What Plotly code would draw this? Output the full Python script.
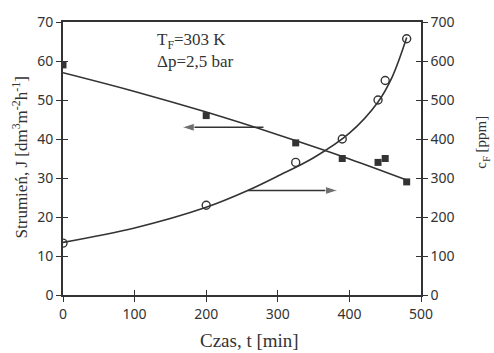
import plotly.graph_objects as go

# measured points
t_J = [0, 200, 325, 390, 440, 450, 480]
J = [59, 46, 39, 35, 34, 35, 29]
t_c = [0, 200, 325, 390, 440, 450, 480]
cF = [133, 230, 340, 400, 500, 550, 657]

# trend curves
t_Jfit = [0, 100, 200, 300, 400, 480]
J_fit = [57, 52.2, 46.9, 41.1, 34.9, 29.5]
t_cfit = [0, 100, 200, 258, 300, 350, 400, 440, 460, 480]
c_fit = [135, 172, 225, 268, 305, 352, 415, 495, 560, 660]

# arrows (which axis each curve belongs to)
arrow_left_t = [280, 166]
arrow_left_J = [43, 43]
arrow_right_t = [258, 384]
arrow_right_J = [26.8, 26.8]

x_ticks = [0, 100, 200, 300, 400, 500]
yl_ticks = [0, 10, 20, 30, 40, 50, 60, 70]
yr_ticks = [0, 100, 200, 300, 400, 500, 600, 700]

ink = "#333333"
serif = "Liberation Serif, Times New Roman, serif"
sans = "Noto Sans, DejaVu Sans, sans-serif"

fig = go.Figure()
fig.add_trace(go.Scatter(x=t_Jfit, y=J_fit, mode="lines", line=dict(color=ink, width=1.6, shape="spline"),
                         showlegend=False, hoverinfo="skip"))
fig.add_trace(go.Scatter(x=t_J, y=J, mode="markers", marker=dict(symbol="square", size=7, color=ink),
                         showlegend=False))
fig.add_trace(go.Scatter(x=t_cfit, y=c_fit, mode="lines", line=dict(color=ink, width=1.6, shape="spline"),
                         yaxis="y2", showlegend=False, hoverinfo="skip"))
fig.add_trace(go.Scatter(x=t_c, y=cF, mode="markers",
                         marker=dict(symbol="circle-open", size=8, color=ink, line=dict(width=1.4)),
                         yaxis="y2", showlegend=False))

for xs, ys in [(arrow_left_t, arrow_left_J), (arrow_right_t, arrow_right_J)]:
    fig.add_trace(go.Scatter(x=xs, y=ys, mode="lines+markers", line=dict(color=ink, width=1.4),
                             marker=dict(symbol="arrow", angleref="previous", size=[0, 13], color=ink),
                             showlegend=False, hoverinfo="skip"))

axcommon = dict(showgrid=False, zeroline=False, showline=True, linecolor=ink, linewidth=1.6,
                ticks="outside", ticklen=5, tickwidth=1.3, tickcolor=ink,
                tickfont=dict(family=sans, size=14, color=ink))
inner = dict(showgrid=False, zeroline=False, showline=False, ticks="inside", ticklen=5, tickwidth=1.3,
             tickcolor=ink, showticklabels=False)

fig.update_layout(
    width=494, height=353,
    margin=dict(l=63, r=73, t=13, b=58),
    paper_bgcolor="white", plot_bgcolor="white",
    font=dict(family=serif, color=ink),
    xaxis=dict(range=[0, 500], tickvals=x_ticks, mirror=True, **axcommon),
    yaxis=dict(range=[0, 70], tickvals=yl_ticks, **axcommon),
    yaxis2=dict(range=[0, 700], tickvals=yr_ticks, overlaying="y", side="right", **axcommon),
    xaxis2=dict(range=[0, 500], tickvals=x_ticks, overlaying="x", anchor="y", **inner),
    yaxis3=dict(range=[0, 70], tickvals=yl_ticks, overlaying="y", side="left", anchor="x", **inner),
    yaxis4=dict(range=[0, 700], tickvals=yr_ticks, overlaying="y", side="right", anchor="x", **inner),
)

fig.add_trace(go.Scatter(x=[None], y=[None], xaxis="x2", yaxis="y3", showlegend=False))
fig.add_trace(go.Scatter(x=[None], y=[None], xaxis="x", yaxis="y4", showlegend=False))

# axis titles
fig.add_annotation(x=0.522, y=-0.167, xref="paper", yref="paper", showarrow=False,
                   xanchor="center", yanchor="middle", text="Czas, t [min]",
                   font=dict(family=serif, size=19, color=ink))
fig.add_annotation(x=-0.120, y=0.504, xref="paper", yref="paper", showarrow=False, textangle=-90,
                   xanchor="center", yanchor="middle",
                   text="Strumień, J [dm<sup>3</sup>m<sup>-2</sup>h<sup>-1</sup>]",
                   font=dict(family=serif, size=17, color=ink))
fig.add_annotation(x=1.172, y=0.56, xref="paper", yref="paper", showarrow=False, textangle=-90,
                   xanchor="center", yanchor="middle", text="c<sub>F</sub> [ppm]",
                   font=dict(family=serif, size=15, color=ink))

fig.add_annotation(x=128, y=68.5, xref="x", yref="y", showarrow=False, xanchor="left", yanchor="top",
                   align="left", text="T<sub>F</sub>=303 K<br>Δp=2,5 bar",
                   font=dict(family=serif, size=17, color=ink))

fig.write_html("out.html")
